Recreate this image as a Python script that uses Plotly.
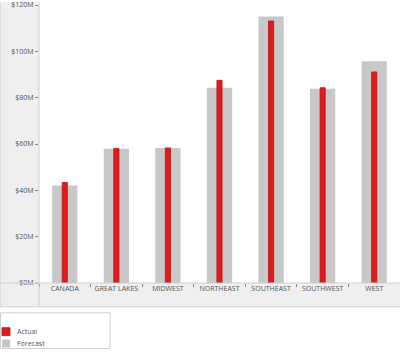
import plotly.graph_objects as go

categories = ["CANADA", "GREAT LAKES", "MIDWEST", "NORTHEAST", "SOUTHEAST", "SOUTHWEST", "WEST"]
forecast = [42.1, 57.9, 58.3, 84.3, 115.0, 83.8, 95.7]
actual = [43.4, 58.1, 58.3, 87.5, 113.1, 84.3, 91.1]
y_tick_vals = [0, 20, 40, 60, 80, 100, 120]
y_tick_text = ["$0M", "$20M", "$40M", "$60M", "$80M", "$100M", "$120M"]

W, H = 400, 352
L, T, B_Y = 39, 3, 283
PW = W - L
PH = B_Y - T


def px(x):
    return (x - L) / PW


def py(y):
    return (B_Y - y) / PH


fig = go.Figure()
fig.add_trace(go.Bar(x=categories, y=forecast, name="Forecast", width=0.49,
                     marker=dict(color="#c8c8c8", line=dict(width=0))))
fig.add_trace(go.Bar(x=categories, y=actual, name="Actual", width=0.1,
                     marker=dict(color="#e31a1c", line=dict(color="#b0161a", width=0.8))))

font = "Open Sans, DejaVu Sans, sans-serif"
shapes = [
    dict(type="rect", xref="paper", yref="paper", x0=px(0), x1=px(L), y0=py(307), y1=py(0),
         fillcolor="#efefef", line=dict(width=0), layer="below"),
    dict(type="rect", xref="paper", yref="paper", x0=px(0), x1=px(W), y0=py(307), y1=py(283),
         fillcolor="#efefef", line=dict(width=0), layer="below"),
    dict(type="line", xref="paper", yref="paper", x0=px(0), x1=px(W), y0=py(283), y1=py(283),
         line=dict(color="#cfcfcf", width=1)),
    dict(type="line", xref="paper", yref="paper", x0=px(0), x1=px(W), y0=py(307), y1=py(307),
         line=dict(color="#cfcfcf", width=1)),
    dict(type="line", xref="paper", yref="paper", x0=px(L), x1=px(L), y0=py(0), y1=py(307),
         line=dict(color="#cfcfcf", width=1)),
    dict(type="line", xref="paper", yref="paper", x0=px(0.5), x1=px(0.5), y0=py(0), y1=py(307),
         line=dict(color="#dcdcdc", width=1)),
    dict(type="rect", xref="paper", yref="paper", x0=px(0.5), x1=px(110), y0=py(313), y1=py(349),
         fillcolor="white", line=dict(color="#d0d0d0", width=1)),
    dict(type="rect", xref="paper", yref="paper", x0=px(2), x1=px(10), y0=py(328), y1=py(336),
         fillcolor="#e31a1c", line=dict(color="#b0161a", width=0.8)),
    dict(type="rect", xref="paper", yref="paper", x0=px(2), x1=px(10), y0=py(340), y1=py(348),
         fillcolor="#c8c8c8", line=dict(width=0)),
]
annotations = [
    dict(xref="paper", yref="paper", x=px(15), y=py(332), text="Actual", showarrow=False,
         xanchor="left", yanchor="middle", font=dict(size=7, color="#555", family=font)),
    dict(xref="paper", yref="paper", x=px(15), y=py(344), text="Forecast", showarrow=False,
         xanchor="left", yanchor="middle", font=dict(size=7, color="#555", family=font)),
]

fig.update_layout(
    width=W, height=H,
    margin=dict(l=L, r=0, t=T, b=H - B_Y, pad=0),
    paper_bgcolor="white", plot_bgcolor="white",
    barmode="overlay", showlegend=False,
    font=dict(family=font, size=7, color="#555"),
    shapes=shapes, annotations=annotations,
    xaxis=dict(type="category", showgrid=False, showline=False, zeroline=False,
               ticks="outside", tickson="boundaries", ticklen=3, tickcolor="#888",
               tickangle=0,
               tickfont=dict(size=7, color="#555", family=font)),
    yaxis=dict(range=[0, 120], tickvals=y_tick_vals, ticktext=y_tick_text,
               showgrid=False, zeroline=False, showline=False,
               ticks="outside", ticklen=3, tickcolor="#888",
               ticklabeloverflow="allow",
               tickfont=dict(size=7, color="#555", family=font)),
)

fig.write_html("out.html")
